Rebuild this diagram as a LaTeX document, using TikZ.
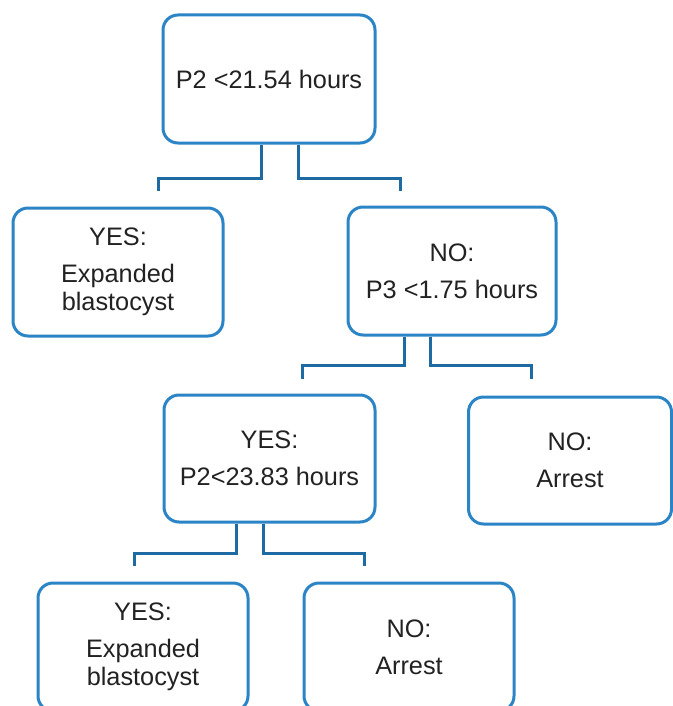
\documentclass[tikz,border=0pt]{standalone}
\usepackage{fontspec}
\setmainfont{Liberation Sans}
\usetikzlibrary{positioning}

\definecolor{boxblue}{HTML}{2B84C6}
\definecolor{linkblue}{HTML}{1E6BA4}
\definecolor{txt}{HTML}{222222}

\tikzset{
  box/.style={draw=boxblue, line width=3pt, rounded corners=15pt, fill=white,
    minimum width=210pt, minimum height=128pt, align=center, text=txt,
    font=\fontsize{25.3}{28}\selectfont},
  link/.style={draw=linkblue, line width=3pt}
}

\begin{document}
\begin{tikzpicture}[x=1pt,y=1pt]
  \useasboundingbox (0,0) rectangle (672,-706);

  % --- Root question ---
  \node[box, minimum width=212pt] (root) at (269,-79) {P2 <21.54 hours};

  % --- First split ---
  \node[box] (yesA) at (118,-272) {YES:\\[9pt]Expanded\\blastocyst};
  \node[box, minimum width=208pt] (noA) at (452,-271) {NO:\\[9pt]P3 <1.75 hours};

  % --- Second split ---
  \node[box, minimum width=211pt, minimum height=127pt] (yesB) at (269.5,-458.5) {YES:\\[9pt]P2<23.83 hours};
  \node[box, minimum width=203pt, minimum height=127pt] (noB) at (570,-460.5) {NO:\\[9pt]Arrest};

  % --- Third split ---
  \node[box] (yesC) at (143,-647) {YES:\\[9pt]Expanded\\blastocyst};
  \node[box] (noC) at (409,-647) {NO:\\[9pt]Arrest};

  % --- Branching connectors ---
  \draw[link] ([xshift=-8pt]root.south) -- ++(0,-34) -| ([xshift=40pt,yshift=16pt]yesA.north);
  \draw[link] ([xshift=29pt]root.south) -- ++(0,-34) -| ([xshift=-52pt,yshift=15pt]noA.north);

  \draw[link] ([xshift=-48pt]noA.south) -- ++(0,-29) -| ([xshift=32.5pt,yshift=15pt]yesB.north);
  \draw[link] ([xshift=-22pt]noA.south) -- ++(0,-29) -| ([xshift=-39pt,yshift=17pt]noB.north);

  \draw[link] ([xshift=-33.5pt]yesB.south) -- ++(0,-30) -| ([xshift=-9pt,yshift=16pt]yesC.north);
  \draw[link] ([xshift=-6.5pt]yesB.south) -- ++(0,-30) -| ([xshift=-45pt,yshift=16pt]noC.north);
\end{tikzpicture}
\end{document}
